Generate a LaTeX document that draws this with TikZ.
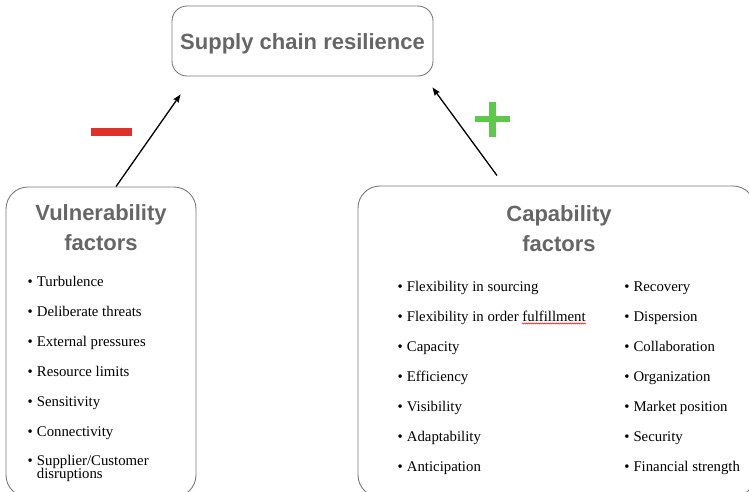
\documentclass[tikz,border=0pt]{standalone}
\usepackage{fontspec}
\setmainfont{Liberation Serif}
\newfontfamily\headfont{Liberation Sans}
\usetikzlibrary{positioning,arrows.meta,decorations.pathmorphing}
\definecolor{framegray}{HTML}{7A7A7A}
\definecolor{headgray}{HTML}{666666}
\definecolor{minusred}{HTML}{E0302A}
\definecolor{plusgreen}{HTML}{5DC84B}

\begin{document}
\begin{tikzpicture}[x=1pt, y=-1pt,
  panel/.style={draw=framegray, line width=0.9pt, rounded corners=#1},
  head/.style={font=\headfont\bfseries\fontsize{22}{30}\selectfont, text=headgray, align=center, inner sep=0pt},
  item/.style={font=\fontsize{14.8}{16}\selectfont, anchor=base west, inner sep=0pt},
  arr/.style={-{Stealth[length=8pt, width=6pt, inset=1pt]}, line width=1.3pt}]
\useasboundingbox (0,0) rectangle (749,491);
\clip (0,0) rectangle (749,491);
\newcommand\bul{\llap{\textbullet\hspace{4pt}}}

% the three boxes
\node[panel=15pt, head, minimum width=261pt, minimum height=70pt] (scr) at (302.5,41)
  {\raisebox{-2.5pt}[\height][\depth]{Supply chain resilience}};
\node[panel=22pt, minimum width=190pt, minimum height=310pt] (vul) at (101,342) {};
\node[panel=22pt, minimum width=397pt, minimum height=311pt] (cap) at (556.5,341.5) {};

\node[head] (vulhead) at (101,228) {Vulnerability\\factors};
\node[head] (caphead) at (559,229) {Capability\\factors};

% vulnerability list
\foreach \txt [count=\i from 0] in {Turbulence, Deliberate threats, External pressures,
    Resource limits, Sensitivity, Connectivity}
  \node[item] (v\i) at (36.7,286.7+30*\i) {\bul\txt};
\node[item] (v6) at (36.7,465) {\bul Supplier/Customer};
\node[item] (v6b) at (36.7,478.5) {disruptions};

% capability lists
\foreach \txt [count=\i from 0] in {Flexibility in sourcing, Flexibility in order fulfillment,
    Capacity, Efficiency, Visibility, Adaptability, Anticipation}
  \node[item] (c\i) at (406.7,291.7+30*\i) {\bul\txt};
\foreach \txt [count=\i from 0] in {Recovery, Dispersion, Collaboration, Organization,
    Market position, Security, Financial strength}
  \node[item] (d\i) at (633.3,291.7+30*\i) {\bul\txt};
\draw[red, line width=0.5pt, decorate, decoration={snake, amplitude=0.6pt, segment length=2pt}]
  (521.7,323.5) -- (586,323.5);

% effects on resilience
\draw[arr] ([xshift=15pt]vul.north) -- ([xshift=9pt, yshift=-18pt]scr.south west);
\draw[arr] ([xshift=-59.5pt, yshift=10pt]cap.north) -- ([xshift=-1pt, yshift=-11pt]scr.south east);
\node[fill=minusred, minimum width=41pt, minimum height=8pt, inner sep=0pt] (minus) at (111.5,132) {};
\draw[plusgreen, line width=6.5pt] (475,119) -- (510,119) (492.5,101.5) -- (492.5,136.5);
\end{tikzpicture}
\end{document}
